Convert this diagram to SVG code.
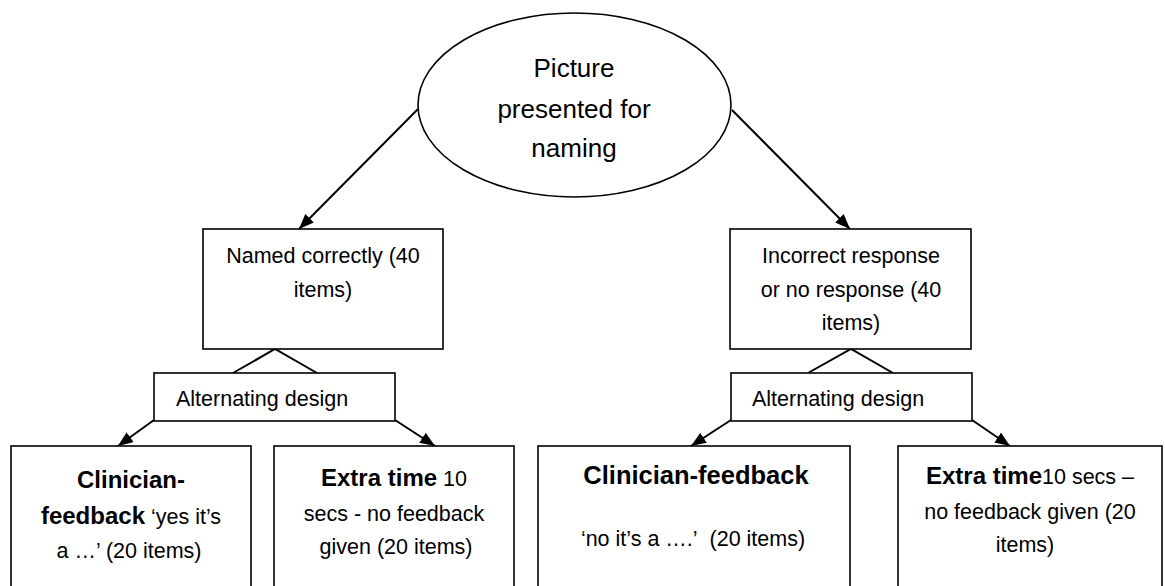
<svg xmlns="http://www.w3.org/2000/svg" width="1165" height="586" viewBox="0 0 1165 586">
<style>
text{font-family:"Liberation Sans",Arial,sans-serif;fill:#000;}
.t{font-size:21.5px;}
.e{font-size:26px;}
.m{text-anchor:middle;}
.b{font-weight:bold;font-size:24px;}
.b25{font-weight:bold;font-size:25.5px;}
.box{fill:#fff;stroke:#000;stroke-width:1.6;}
.ln{stroke:#000;stroke-width:2;fill:none;}
</style>
<defs>
<marker id="ah" viewBox="0 0 15 12" refX="15" refY="6" markerWidth="15" markerHeight="12" markerUnits="userSpaceOnUse" orient="auto">
<path d="M0,0 L15,6 L0,12 Z" fill="#000"/>
</marker>
</defs>
<g id="connectors">
<line class="ln" x1="418" y1="109" x2="299" y2="229" marker-end="url(#ah)"/>
<line class="ln" x1="732" y1="110" x2="850" y2="229" marker-end="url(#ah)"/>
<polyline class="ln" points="233,373 275,349 317,373"/>
<polyline class="ln" points="808,373 851,349 893,373"/>
<line class="ln" x1="154" y1="420" x2="118" y2="446" marker-end="url(#ah)"/>
<line class="ln" x1="395" y1="420" x2="435" y2="446" marker-end="url(#ah)"/>
<line class="ln" x1="731" y1="420" x2="691" y2="446" marker-end="url(#ah)"/>
<line class="ln" x1="972" y1="420" x2="1010" y2="446" marker-end="url(#ah)"/>
</g>
<g id="picture">
<ellipse cx="574.5" cy="105" rx="156.5" ry="92" class="box"/>
<text class="e m" x="574" y="77">Picture</text>
<text class="e m" x="574" y="118">presented for</text>
<text class="e m" x="574" y="157">naming</text>
</g>
<g id="named">
<rect x="203" y="229" width="240" height="120" class="box"/>
<text class="t m" x="323" y="263">Named correctly (40</text>
<text class="t m" x="323" y="297">items)</text>
</g>
<g id="incorrect">
<rect x="730" y="229" width="241" height="120" class="box"/>
<text class="t m" x="851" y="263">Incorrect response</text>
<text class="t m" x="851" y="297">or no response (40</text>
<text class="t m" x="851" y="330">items)</text>
</g>
<g id="alt-left">
<rect x="154" y="373" width="241" height="48" class="box"/>
<text class="t" x="176" y="406">Alternating design</text>
</g>
<g id="alt-right">
<rect x="731" y="373" width="241" height="48" class="box"/>
<text class="t" x="752" y="406">Alternating design</text>
</g>
<g id="clin-left">
<rect x="11" y="446" width="240" height="160" class="box"/>
<text class="b m" x="131" y="488">Clinician-</text>
<text class="t m" x="131" y="524"><tspan class="b">feedback</tspan> ‘yes it’s</text>
<text class="t m" x="129" y="558">a …’ (20 items)</text>
</g>
<g id="extra-left">
<rect x="274" y="446" width="240" height="160" class="box"/>
<text class="t m" x="394" y="486"><tspan class="b">Extra time</tspan> 10</text>
<text class="t m" x="394" y="521">secs - no feedback</text>
<text class="t m" x="396" y="554">given (20 items)</text>
</g>
<g id="clin-right">
<rect x="538" y="446" width="312" height="160" class="box"/>
<text class="b25 m" x="696" y="484">Clinician-feedback</text>
<text class="t m" x="693" y="546">‘no it’s a ….’&#160; (20 items)</text>
</g>
<g id="extra-right">
<rect x="898" y="446" width="264" height="160" class="box"/>
<text class="t m" x="1030" y="484"><tspan class="b">Extra time</tspan>10 secs –</text>
<text class="t m" x="1030" y="519">no feedback given (20</text>
<text class="t m" x="1025" y="552">items)</text>
</g>
</svg>
